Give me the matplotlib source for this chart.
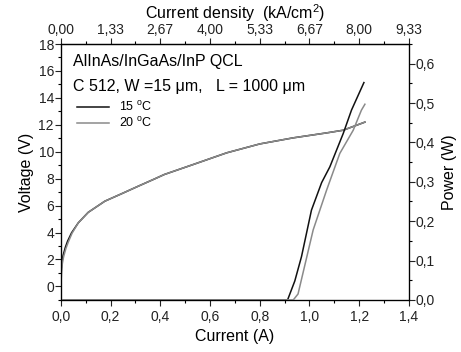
import numpy as np
import matplotlib.pyplot as plt
from matplotlib.ticker import MultipleLocator, FuncFormatter

plt.rcParams["font.family"] = ["Liberation Sans", "DejaVu Sans"]
plt.rcParams["mathtext.fontset"] = "custom"
plt.rcParams["mathtext.rm"] = "Liberation Sans"

# ---- data: L-I-V of the QCL at two temperatures ----
# voltage (V) vs current (A)
cur_v15 = [0.0, 0.002, 0.005, 0.009, 0.018, 0.027, 0.043, 0.07, 0.11, 0.177, 0.244,
           0.311, 0.378, 0.416, 0.532, 0.667, 0.8, 0.934, 1.069, 1.136, 1.223]
volt_15 = [0.0, 1.3, 1.9, 2.3, 2.9, 3.36, 3.98, 4.72, 5.5, 6.33, 6.88,
           7.44, 7.99, 8.31, 9.05, 9.92, 10.58, 11.03, 11.4, 11.6, 12.2]
cur_v20 = [0.0, 0.003, 0.006, 0.011, 0.02, 0.03, 0.045, 0.07, 0.11, 0.177, 0.244,
           0.311, 0.378, 0.416, 0.532, 0.667, 0.8, 0.934, 1.069, 1.136, 1.223]
volt_20 = [0.0, 1.1, 1.7, 2.2, 2.8, 3.3, 3.95, 4.72, 5.5, 6.33, 6.88,
           7.44, 7.99, 8.31, 9.05, 9.92, 10.58, 11.03, 11.4, 11.6, 12.2]

# optical power (W) vs current (A)
cur_p15 = [0.0, 0.5, 0.912, 0.941, 0.968, 1.008, 1.049, 1.082, 1.136, 1.169, 1.219]
pow_15 = [0.0, 0.0, 0.0, 0.048, 0.11, 0.228, 0.298, 0.338, 0.423, 0.482, 0.552]
cur_p20 = [0.0, 0.5, 0.935, 0.954, 1.015, 1.069, 1.122, 1.176, 1.209, 1.223]
pow_20 = [0.0, 0.0, 0.0, 0.015, 0.178, 0.279, 0.372, 0.431, 0.482, 0.497]

AREA_CM2 = 15e-4 * 1000e-4   # W = 15 um, L = 1000 um

C15 = "#111111"
C20 = "#8a8a8a"

fig = plt.figure(figsize=(4.61, 3.52), dpi=100)
ax = fig.add_axes([0.132, 0.148, 0.755, 0.727])

comma = lambda fmt: FuncFormatter(lambda v, p: (fmt % v).replace(".", ","))

ax.plot(cur_v15, volt_15, color=C15, lw=1.1, label="15 $^{\\mathrm{o}}$C")
ax.plot(cur_v20, volt_20, color=C20, lw=1.1, label="20 $^{\\mathrm{o}}$C")
ax.set_xlim(0, 1.4)
ax.set_ylim(-1, 18)
ax.xaxis.set_major_locator(MultipleLocator(0.2))
ax.xaxis.set_minor_locator(MultipleLocator(0.1))
ax.yaxis.set_major_locator(MultipleLocator(2))
ax.yaxis.set_minor_locator(MultipleLocator(1))
ax.xaxis.set_major_formatter(comma("%.1f"))
ax.set_xlabel("Current (A)", fontsize=11.5, labelpad=4)
ax.set_ylabel("Voltage (V)", fontsize=11.5, labelpad=3)

ax2 = ax.twinx()
ax2.plot(cur_p15, pow_15, color=C15, lw=1.1)
ax2.plot(cur_p20, pow_20, color=C20, lw=1.1)
ax2.set_ylim(0, 0.65)
ax2.yaxis.set_major_locator(MultipleLocator(0.1))
ax2.yaxis.set_minor_locator(MultipleLocator(0.05))
ax2.yaxis.set_major_formatter(comma("%.1f"))
ax2.set_ylabel("Power (W)", fontsize=11.5, labelpad=5)

# top axis: current density in kA/cm^2
top = ax.secondary_xaxis("top", functions=(lambda i: i / AREA_CM2 / 1000,
                                           lambda j: j * AREA_CM2 * 1000))
top.set_xticks([0.2 * k / AREA_CM2 / 1000 for k in range(8)])
top.set_xticks([0.1 * k / AREA_CM2 / 1000 for k in range(15)], minor=True)
top.xaxis.set_major_formatter(comma("%.2f"))
top.set_xlabel("Current density  (kA/cm$^2$)", fontsize=11.5, labelpad=3)

for a in (ax, ax2, top):
    a.tick_params(which="major", direction="out", length=4, width=0.8,
                  labelsize=10, pad=1, colors="#222222")
    a.tick_params(which="minor", direction="out", length=2.5, width=0.8)
ax.tick_params(axis="x", which="major", pad=3)
for s in ax.spines.values():
    s.set_linewidth(0.9)

ax.text(0.035, 0.96, "AlInAs/InGaAs/InP QCL", transform=ax.transAxes,
        fontsize=11.5, va="top")
ax.text(0.035, 0.865, "C 512, W =15 \u03bcm,   L = 1000 \u03bcm",
        transform=ax.transAxes, fontsize=11.5, va="top")
ax.legend(loc="upper left", bbox_to_anchor=(0.02, 0.815), frameon=False,
          fontsize=9, handlelength=2.6, labelspacing=0.15, borderpad=0.2)

fig.savefig("out.png", dpi=100)
